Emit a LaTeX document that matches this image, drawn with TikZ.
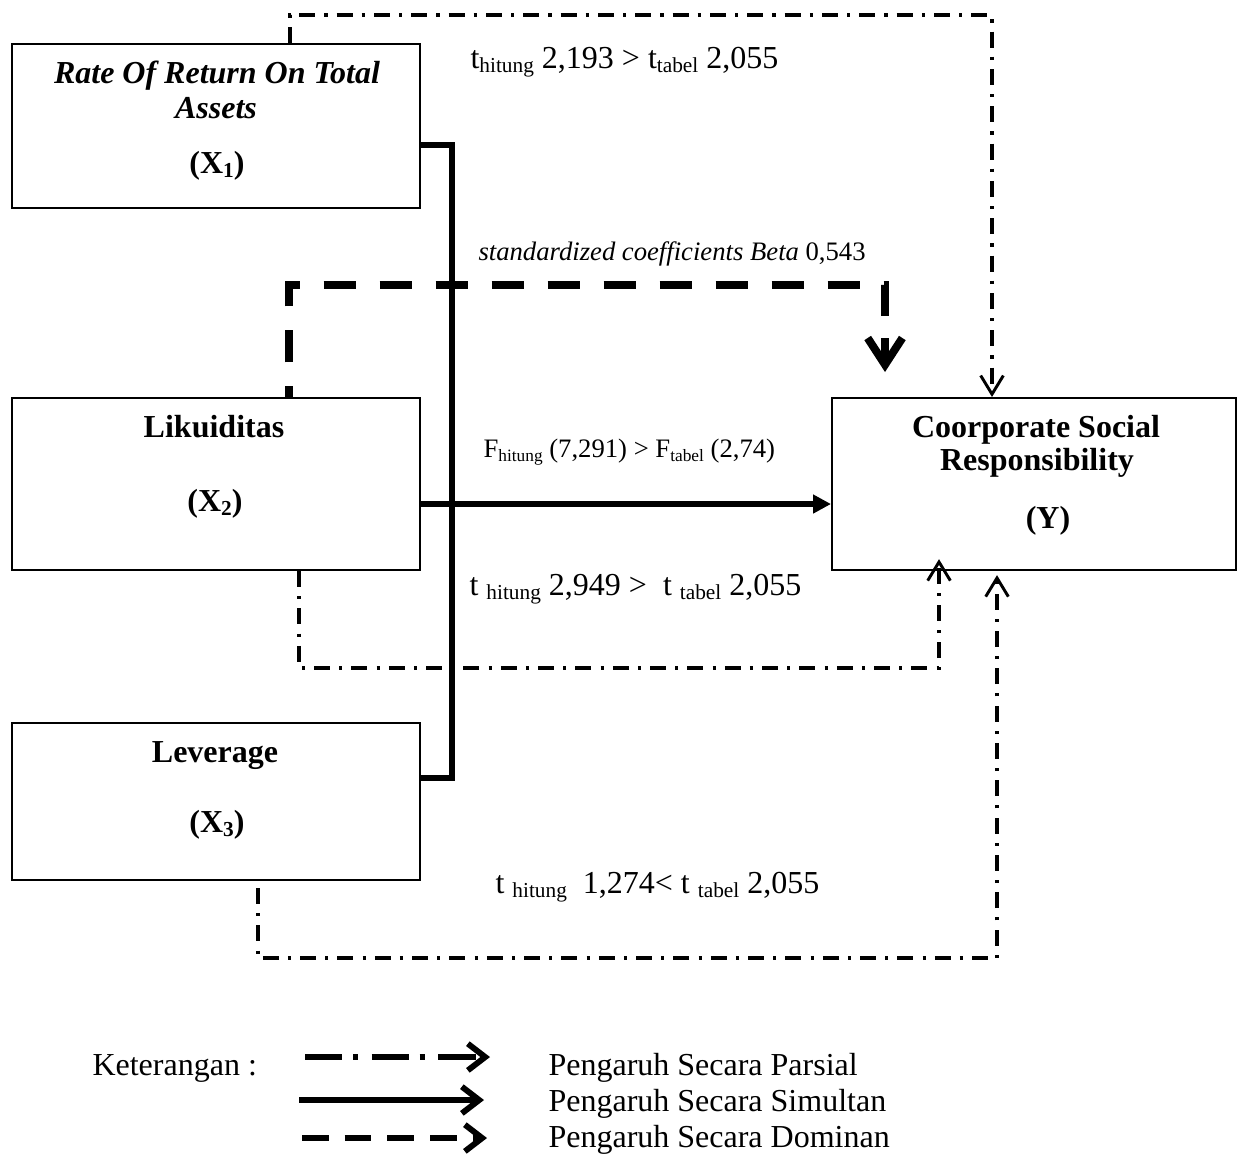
\documentclass[tikz,border=0pt]{standalone}
\usepackage{fontspec}
\setmainfont{Liberation Serif}
\usetikzlibrary{arrows.meta,calc}
\newcommand\subtxt[2][8]{\raisebox{-1.6pt}{\fontsize{#1}{#1}\selectfont #2}}
\begin{document}
\begin{tikzpicture}[x=0.375pt,y=-0.375pt,
  box/.style={draw, line width=0.8pt, inner sep=0pt, anchor=north west},
  boxtxt/.style={anchor=base, inner sep=0pt, font=\fontsize{12}{14}\selectfont\bfseries},
  lbl/.style={anchor=base west, inner sep=0pt, font=\fontsize{12}{14}\selectfont},
  partial/.style={line width=1.3pt, dash pattern=on 6pt off 3.4pt on 1.2pt off 3.4pt,
    -{Straight Barb[length=7pt,width=8.5pt,line width=1.1pt]}},
  dominan/.style={line width=3pt, dash pattern=on 12pt off 9pt, dash phase=8pt},
  domtip/.style={line width=3pt, -{Straight Barb[length=10pt,width=13pt,line width=3pt]}},
  simul/.style={line width=2.2pt},
  simarrow/.style={line width=2.2pt, -{Triangle[length=6.75pt,width=6.75pt]}},
  legtip/.style={-{Straight Barb[length=6.5pt,width=10pt,line width=2.2pt]}},
  legpartial/.style={line width=2.2pt, dash pattern=on 14pt off 4pt on 2pt off 5pt, legtip},
  legsimul/.style={line width=2.4pt, legtip},
  legdominan/.style={line width=2.2pt, dash pattern=on 10pt off 6pt, legtip}
]
\useasboundingbox (0,0) rectangle (1246,1155);

% boxes
\node[box, minimum width=153pt, minimum height=61.5pt] (x1) at (11,43) {};
\node[box, minimum width=153pt, minimum height=64.5pt] (x2) at (11,397) {};
\node[box, minimum width=153pt, minimum height=58.875pt] (x3) at (11,722) {};
\node[box, minimum width=151.5pt, minimum height=64.5pt] (y) at (831,397) {};

% box texts
\node[boxtxt, font=\fontsize{12}{14}\selectfont\bfseries\itshape] (x1a) at (217,83) {Rate Of Return On Total};
\node[boxtxt, font=\fontsize{12}{14}\selectfont\bfseries\itshape] (x1b) at (216,118) {Assets};
\node[boxtxt] (x1c) at (217,173) {(X\subtxt{1})};
\node[boxtxt] (x2a) at (214,437) {Likuiditas};
\node[boxtxt] (x2b) at (215,511) {(X\subtxt{2})};
\node[boxtxt] (x3a) at (215,762) {Leverage};
\node[boxtxt] (x3b) at (217,832) {(X\subtxt{3})};
\node[boxtxt] (ya) at (1036,437) {Coorporate Social};
\node[boxtxt] (yb) at (1037,470) {Responsibility};
\node[boxtxt] (yc) at (1048,528) {(Y)};

% helper coordinates
\coordinate (p1) at (290,15);
\coordinate (p1r) at (992,15);
\coordinate (d1) at (289,285);
\coordinate (d1r) at (885,285);
\coordinate (d1e) at (885,316);
\coordinate (dts) at (885,338);
\coordinate (dtip) at (885,372);
\coordinate (j1) at (452,145);
\coordinate (j2) at (452,504);
\coordinate (j3) at (452,778);
\coordinate (q2) at (299,668);
\coordinate (q2r) at (939,668);
\coordinate (q3) at (258,958);
\coordinate (q3r) at (997,958);

% partial (dash-dot) connectors
\draw[partial] (p1 |- x1.north) -- (p1) -- (p1r) -- (p1r |- y.north);
\draw[partial] (q2 |- x2.south) -- (q2) -- (q2r) -- ($(q2r |- y.south)+(0,-12)$);
\draw[partial] ($(q3 |- x3.south)+(0,7)$) -- (q3) -- (q3r) -- ($(q3r |- y.south)+(0,4)$);

% dominant connector
\draw[dominan] (d1 |- x2.north) -- (d1) -- (d1r) -- (d1e);
\draw[domtip] (dts) -- (dtip);

% simultaneous connectors
\draw[simul] (j1 -| x1.east) -- (j1) -- (j3) -- (j3 -| x3.east);
\draw[simarrow] (j2 -| x2.east) -- (j2 -| y.west);

% edge labels
\node[lbl] (l1) at (470,68) {t\subtxt{hitung} 2,193 > t\subtxt{tabel} 2,055};
\node[lbl, font=\fontsize{10}{12}\selectfont] (l2) at (478,260) {\itshape standardized coefficients Beta\upshape{} 0,543};
\node[lbl, font=\fontsize{10}{12}\selectfont] (l3) at (483,457) {F\subtxt[6.5]{hitung} (7,291) > F\subtxt[6.5]{tabel} (2,74)};
\node[lbl] (l4) at (469,595) {t \subtxt{hitung} 2,949 >\ \ t \subtxt{tabel} 2,055};
\node[lbl] (l5) at (495,893) {t \subtxt{hitung}\ \ 1,274< t \subtxt{tabel} 2,055};

% legend
\node[lbl] (k) at (92,1075) {Keterangan :};
\coordinate (g1a) at (305,1057); \coordinate (g1b) at (490,1057);
\coordinate (g2a) at (299,1100); \coordinate (g2b) at (484,1100);
\coordinate (g3a) at (302,1138); \coordinate (g3b) at (487,1138);
\draw[legpartial] (g1a) -- (g1b);
\draw[legsimul] (g2a) -- (g2b);
\draw[legdominan] (g3a) -- (g3b);
\node[lbl] (k1) at (548,1075) {Pengaruh Secara Parsial};
\node[lbl] (k2) at (548,1111) {Pengaruh Secara Simultan};
\node[lbl] (k3) at (548,1147) {Pengaruh Secara Dominan};
\end{tikzpicture}
\end{document}
